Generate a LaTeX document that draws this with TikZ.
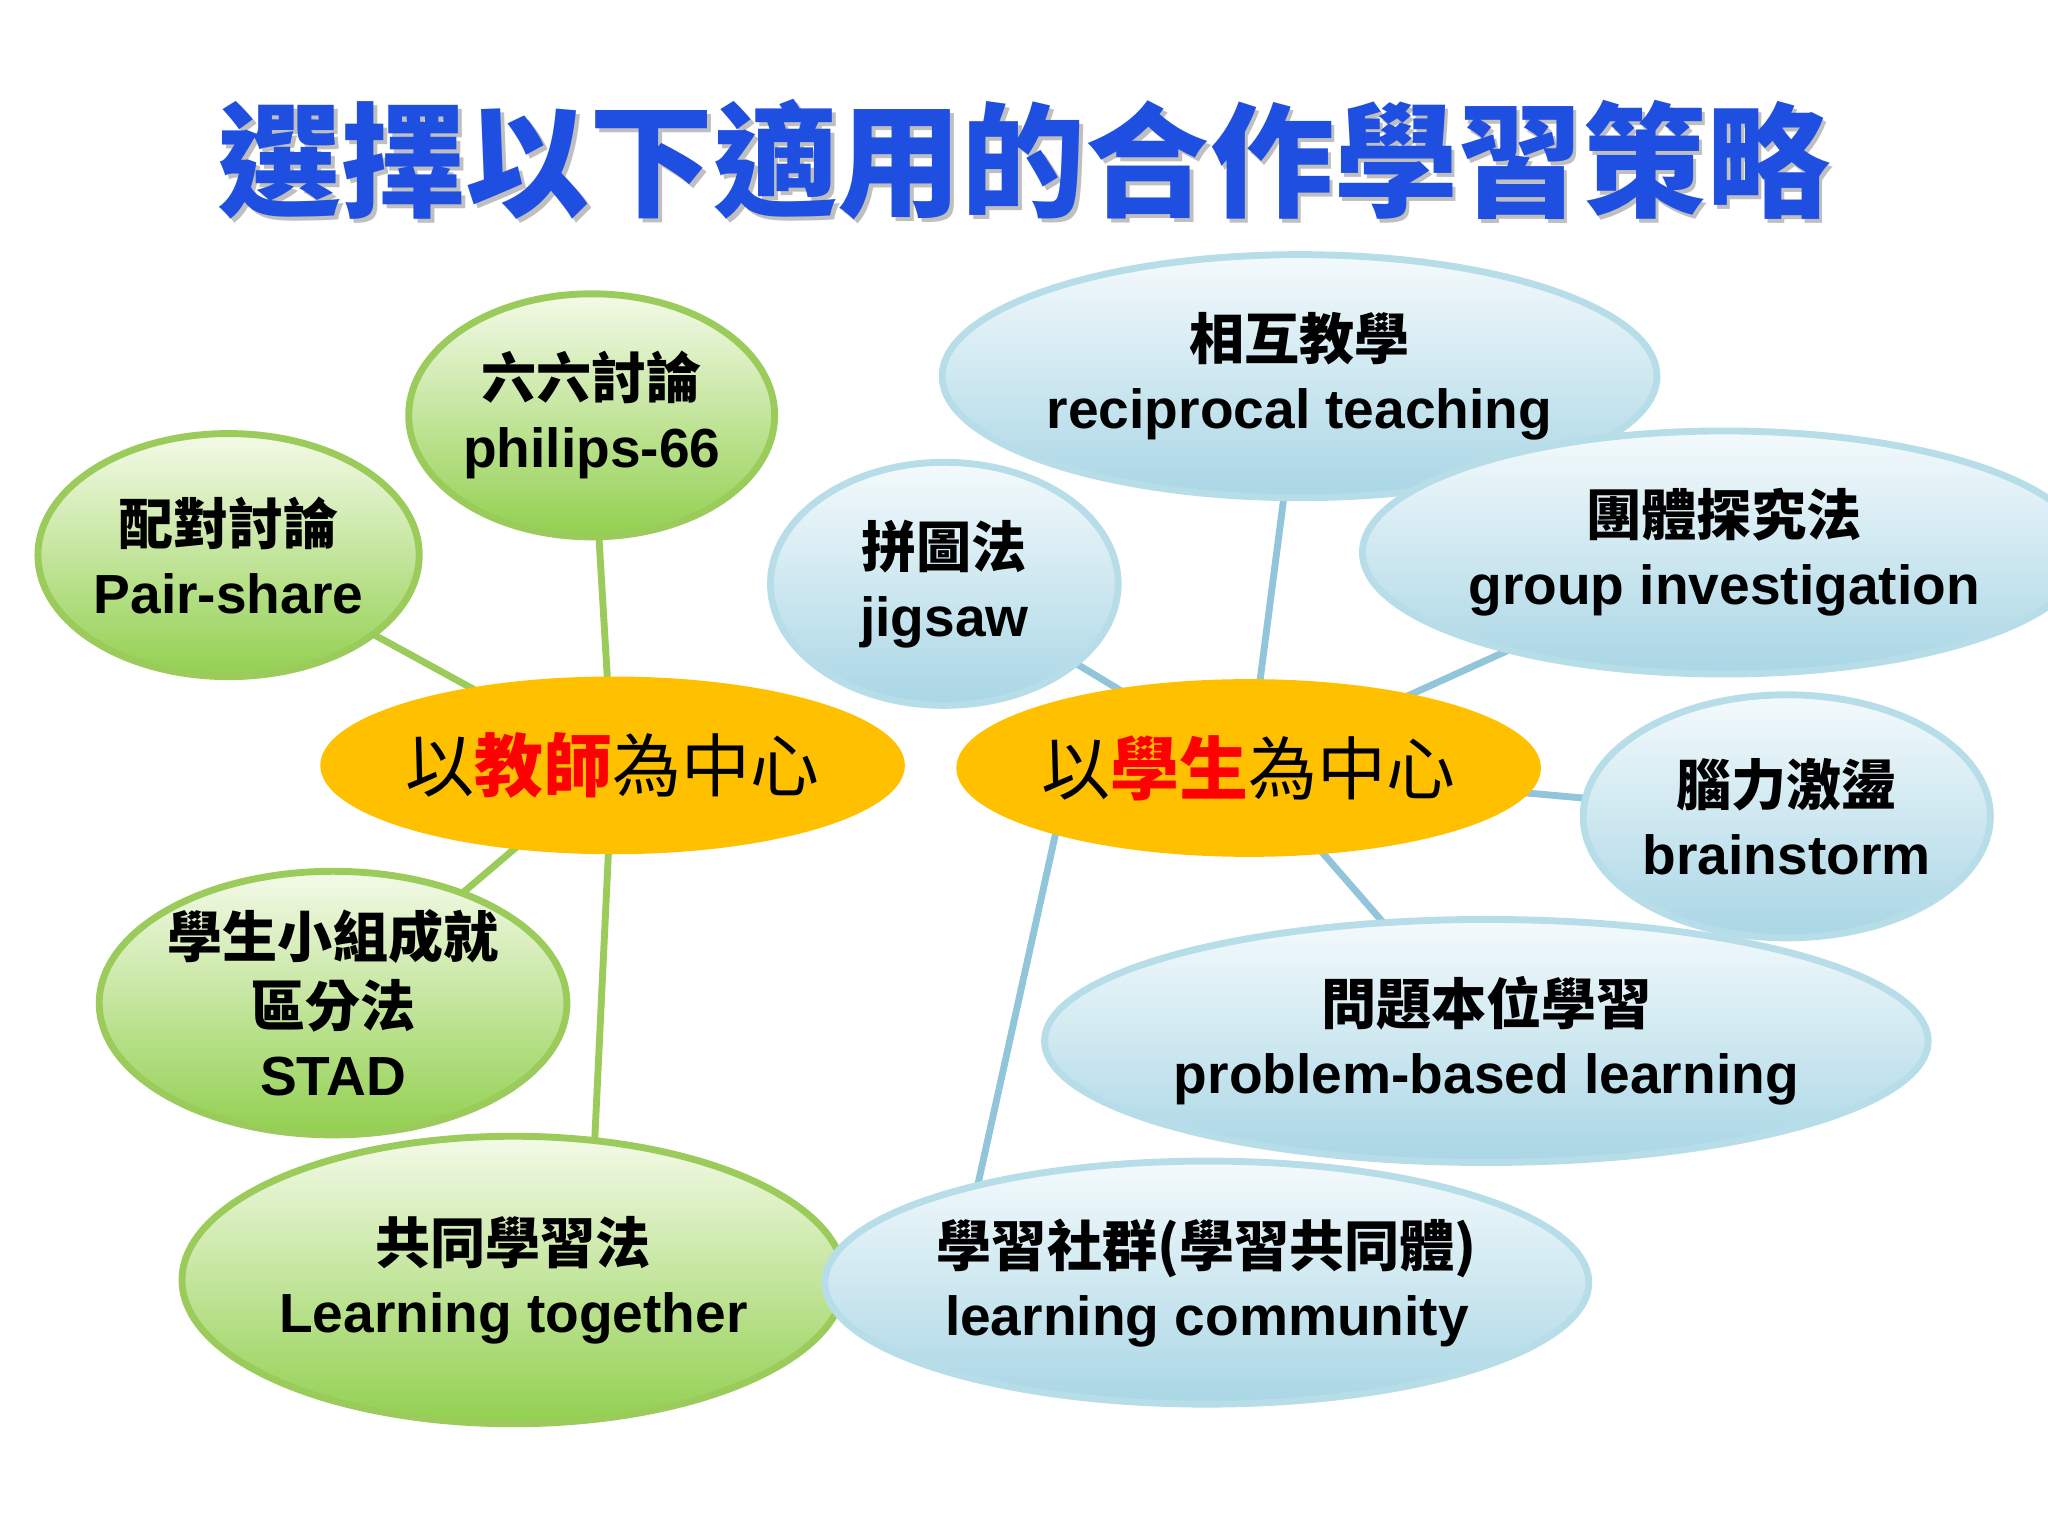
\documentclass[tikz,border=0pt]{standalone}
\usepackage{fontspec}
\setmainfont{Liberation Sans}
\newfontfamily\cjk{Noto Sans CJK TC}
\usetikzlibrary{shapes.geometric}
\definecolor{titleblue}{HTML}{1F4FE0}
\definecolor{gborder}{HTML}{9BCB5A}
\definecolor{bborder}{HTML}{B7DDE8}
\definecolor{lnb}{HTML}{92C5DA}
\definecolor{lng}{HTML}{9BCB5A}
\definecolor{gbot}{HTML}{92D050}
\definecolor{gtop}{HTML}{F4FAE8}
\definecolor{bbot}{HTML}{A9D6E5}
\definecolor{btop}{HTML}{F4FAFC}
\definecolor{ctr}{HTML}{FFC000}
\tikzset{
 gell/.style={ellipse,draw=gborder,line width=1.5pt,top color=gtop,bottom color=gbot,align=center,font=\fontsize{12}{15}\selectfont\bfseries,inner sep=0pt},
 bell/.style={ellipse,draw=bborder,line width=1.5pt,top color=btop,bottom color=bbot,align=center,font=\fontsize{12}{15}\selectfont\bfseries,inner sep=0pt},
 cell/.style={ellipse,fill=ctr,draw=none,align=center,font=\fontsize{15}{18}\selectfont\cjk,inner sep=0pt},
 gl/.style={draw=lng,line width=1.5pt},
 bl/.style={draw=lnb,line width=1.5pt},
}
\begin{document}
\begin{tikzpicture}[x=0.01cm,y=-0.01cm]
\useasboundingbox (0,0) rectangle (1568,1176);
\node[font=\fontsize{27}{32}\selectfont\cjk\bfseries,text=gray!50] at (787,125) {選擇以下適用的合作學習策略};
\node (title) [font=\fontsize{27}{32}\selectfont\cjk\bfseries,text=titleblue] at (784,122) {選擇以下適用的合作學習策略};
\coordinate (tcc) at (469,586);
\coordinate (scc) at (956,588);
\draw[gl] (tcc) -- (175,425) coordinate (psc);
\draw[gl] (tcc) -- (453,318) coordinate (p66c);
\draw[gl] (tcc) -- (255,768) coordinate (stadc);
\draw[gl] (tcc) -- (455,880) coordinate (ltc);
\draw[bl] (scc) -- (995,288) coordinate (rtc);
\draw[bl] (scc) -- (723,447) coordinate (jgc);
\draw[bl] (scc) -- (1320,423) coordinate (gic);
\draw[bl] (scc) -- (1368,625) coordinate (bsc);
\draw[bl] (scc) -- (1138,797) coordinate (pblc);
\draw[bl] (810,630) coordinate (sl) -- (748,910) coordinate (lcc);
% teacher side
\node (tc) [cell,minimum width=4.2cm,minimum height=1.36cm] at (tcc) {以{\color{red}\bfseries 教師}為中心};
\node (ps) [gell,minimum width=2.8cm,minimum height=1.86cm] at (psc) {{\cjk\bfseries 配對討論}\\Pair-share};
\node (p66) [gell,minimum width=2.8cm,minimum height=1.86cm] at (p66c) {{\cjk\bfseries 六六討論}\\philips-66};
\node (stad) [gell,minimum width=3.3cm,minimum height=1.86cm] at (stadc) {{\cjk\bfseries 學生小組成就}\\{\cjk\bfseries 區分法}\\STAD};
\node (lt) [gell,minimum width=4.36cm,minimum height=2.2cm] at (393,980) {{\cjk\bfseries 共同學習法}\\Learning together};
% student side
\node (sc) [cell,minimum width=4.2cm,minimum height=1.36cm] at (scc) {以{\color{red}\bfseries 學生}為中心};
\node (rt) [bell,minimum width=4.54cm,minimum height=1.86cm] at (rtc) {{\cjk\bfseries 相互教學}\\reciprocal teaching};
\node (jg) [bell,minimum width=2.66cm,minimum height=1.86cm] at (jgc) {{\cjk\bfseries 拼圖法}\\jigsaw};
\node (gi) [bell,minimum width=4.54cm,minimum height=1.86cm] at (gic) {{\cjk\bfseries 團體探究法}\\group investigation};
\node (bs) [bell,minimum width=2.96cm,minimum height=1.86cm] at (bsc) {{\cjk\bfseries 腦力激盪}\\brainstorm};
\node (pbl) [bell,minimum width=5.7cm,minimum height=1.86cm] at (pblc) {{\cjk\bfseries 問題本位學習}\\problem-based learning};
\node (lc) [bell,minimum width=5.14cm,minimum height=1.86cm] at (924,982) {{\cjk\bfseries 學習社群(學習共同體)}\\learning community};
\end{tikzpicture}
\end{document}
